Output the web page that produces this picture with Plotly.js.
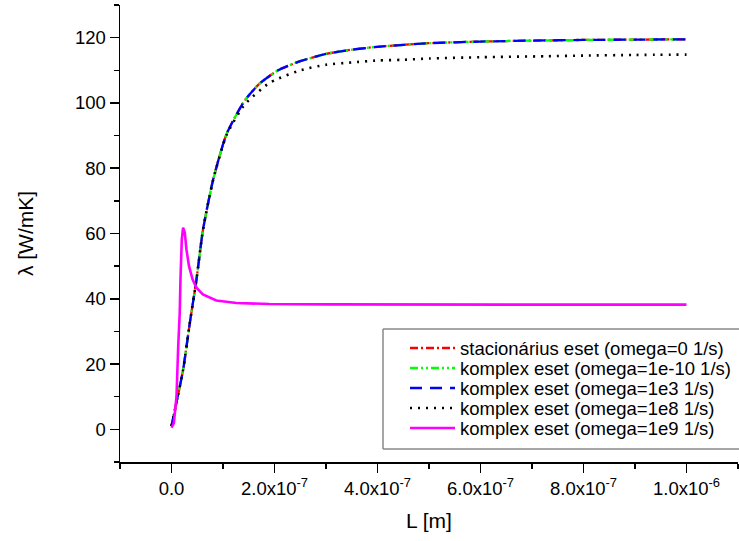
<!DOCTYPE html>
<html>
<head>
<meta charset="utf-8">
<script src="https://cdn.plot.ly/plotly-3.0.1.min.js"></script>
<style>html,body{margin:0;padding:0;background:#fff;}#chart{width:739px;height:541px;}</style>
</head>
<body>
<div id="chart"></div>
<script>
// L values (m) for the main curves
const L_main = [0, 0.1e-7, 0.225e-7, 0.35e-7, 0.485e-7, 0.61e-7, 0.81e-7, 1.07e-7, 1.42e-7, 1.71e-7, 2.07e-7, 2.5e-7, 3e-7, 3.5e-7, 4e-7, 5e-7, 6e-7, 7e-7, 8e-7, 9e-7, 10e-7];
// stacionárius eset (omega=0)
const lam_stat = [1.0, 8.5, 18.2, 32.0, 45.9, 61.0, 76.6, 90.5, 100.7, 105.9, 110.0, 112.8, 115.0, 116.3, 117.2, 118.3, 118.8, 119.1, 119.3, 119.4, 119.5];
// komplex eset (omega=1e-10)
const lam_k1em10 = [1.0, 8.5, 18.2, 32.0, 45.9, 61.0, 76.6, 90.5, 100.7, 105.9, 110.0, 112.8, 115.0, 116.3, 117.2, 118.3, 118.8, 119.1, 119.3, 119.4, 119.5];
// komplex eset (omega=1e3)
const lam_k1e3 = [1.0, 8.5, 18.2, 32.0, 45.9, 61.0, 76.6, 90.5, 100.7, 105.9, 110.0, 112.8, 115.0, 116.3, 117.2, 118.3, 118.8, 119.1, 119.3, 119.4, 119.5];
// komplex eset (omega=1e8)
const L_1e8 = [0, 0.1e-7, 0.225e-7, 0.35e-7, 0.485e-7, 0.61e-7, 0.81e-7, 1.07e-7, 1.42e-7, 1.88e-7, 2.07e-7, 2.5e-7, 3e-7, 3.5e-7, 4e-7, 4.47e-7, 5e-7, 6e-7, 7.28e-7, 8e-7, 9e-7, 10e-7];
const lam_k1e8 = [1.0, 8.5, 18.2, 32.0, 45.9, 61.0, 76.5, 90.2, 99.5, 105.9, 107.4, 110.0, 111.7, 112.4, 113.0, 113.2, 113.6, 114.0, 114.3, 114.5, 114.7, 114.8];
// komplex eset (omega=1e9)
const L_1e9 = [0, 0.045e-7, 0.064e-7, 0.097e-7, 0.13e-7, 0.16e-7, 0.174e-7, 0.2e-7, 0.225e-7, 0.258e-7, 0.29e-7, 0.34e-7, 0.41e-7, 0.485e-7, 0.61e-7, 0.87e-7, 1.26e-7, 1.9e-7, 3e-7, 5e-7, 7e-7, 10e-7];
const lam_k1e9 = [0.5, 1.9, 4.9, 10.0, 25.4, 35.7, 45.9, 58.2, 61.8, 60.3, 55.1, 50.0, 45.9, 43.4, 41.3, 39.5, 38.7, 38.4, 38.3, 38.2, 38.2, 38.2];

const xTickVals = [0, 2e-7, 4e-7, 6e-7, 8e-7, 1e-6];
const xTickText = ["0.0", "2.0x10<sup>-7</sup>", "4.0x10<sup>-7</sup>", "6.0x10<sup>-7</sup>", "8.0x10<sup>-7</sup>", "1.0x10<sup>-6</sup>"];

const names = [
  "stacionárius eset (omega=0 1/s)",
  "komplex eset (omega=1e-10 1/s)",
  "komplex eset (omega=1e3 1/s)",
  "komplex eset (omega=1e8 1/s)",
  "komplex eset (omega=1e9 1/s)"
];

const styles = [
  {color: '#FF0000', width: 2.3, dash: '8px,3px,2px,3px'},
  {color: '#00FF00', width: 2.3, dash: '8px,3px,2px,3px,2px,3px'},
  {color: '#0000FF', width: 2.3, dash: '12px,8px'},
  {color: '#000000', width: 2.6, dash: '2px,6px'},
  {color: '#FF00FF', width: 2.6, dash: 'solid'}
];

const series = [
  {x: L_main, y: lam_stat, shape: 'spline'},
  {x: L_main, y: lam_k1em10, shape: 'spline'},
  {x: L_main, y: lam_k1e3, shape: 'spline'},
  {x: L_1e8, y: lam_k1e8, shape: 'spline'},
  {x: L_1e9, y: lam_k1e9, shape: 'linear'}
];

const traces = series.map((s, i) => ({
  x: s.x, y: s.y, name: names[i], mode: 'lines', showlegend: false,
  line: Object.assign({}, styles[i], {shape: s.shape, smoothing: 0.6})
}));

// legend drawn with shapes and annotations (pixel -> paper helpers)
const M = {l: 120, r: 1, t: 5, b: 79}, W = 739, H = 541;
const PW = W - M.l - M.r, PH = H - M.t - M.b;
const px = v => (v - M.l) / PW;
const py = v => (H - M.b - v) / PH;

const boxLine = {color: '#888', width: 1.5};
const shapes = [
  {type: 'rect', xref: 'paper', yref: 'paper', x0: px(383), x1: px(745), y0: py(449), y1: py(329),
   line: {width: 0}, fillcolor: '#fff', layer: 'above'},
  {type: 'line', xref: 'paper', yref: 'paper', x0: px(383), x1: px(745), y0: py(329), y1: py(329), line: boxLine, layer: 'above'},
  {type: 'line', xref: 'paper', yref: 'paper', x0: px(383), x1: px(745), y0: py(449), y1: py(449), line: boxLine, layer: 'above'},
  {type: 'line', xref: 'paper', yref: 'paper', x0: px(383), x1: px(383), y0: py(449), y1: py(329), line: boxLine, layer: 'above'}
];
const annotations = [];
const rowY = [348, 368, 388, 408, 428];
names.forEach((n, i) => {
  shapes.push({
    type: 'line', xref: 'paper', yref: 'paper',
    x0: px(410), x1: px(455), y0: py(rowY[i]), y1: py(rowY[i]),
    line: {color: styles[i].color, width: styles[i].width, dash: styles[i].dash}, layer: 'above'
  });
  annotations.push({
    xref: 'paper', yref: 'paper', x: px(458), y: py(rowY[i]),
    xanchor: 'left', yanchor: 'middle', showarrow: false, text: n,
    font: {family: 'Liberation Sans, Arial, sans-serif', size: 18.5, color: '#000'}
  });
});

const font = 'Liberation Sans, Arial, sans-serif';
const layout = {
  width: W, height: H,
  margin: M,
  paper_bgcolor: '#fff', plot_bgcolor: '#fff',
  font: {family: font, color: '#000', size: 18.5},
  showlegend: false,
  shapes: shapes,
  annotations: annotations,
  xaxis: {
    range: [-1e-7, 1.1e-6],
    tickmode: 'array', tickvals: xTickVals, ticktext: xTickText,
    ticks: 'outside', ticklen: 9, tickwidth: 1.5, tickcolor: '#000',
    showline: true, linecolor: '#000', linewidth: 1.5, mirror: false,
    showgrid: false, zeroline: false,
    tickfont: {family: font, size: 18.5, color: '#000'},
    minor: {tickmode: 'linear', tick0: 0, dtick: 1e-7, ticks: 'outside', ticklen: 5, tickwidth: 1.5, tickcolor: '#000', showgrid: false},
    title: {text: 'L [m]', font: {family: font, size: 21, color: '#000'}, standoff: 15}
  },
  yaxis: {
    range: [-10, 130],
    tickmode: 'linear', tick0: 0, dtick: 20,
    ticks: 'outside', ticklen: 9, tickwidth: 1.5, tickcolor: '#000',
    showline: true, linecolor: '#000', linewidth: 1.5, mirror: false,
    showgrid: false, zeroline: false,
    tickfont: {family: font, size: 18.5, color: '#000'},
    minor: {tickmode: 'linear', tick0: 0, dtick: 10, ticks: 'outside', ticklen: 5, tickwidth: 1.5, tickcolor: '#000', showgrid: false},
    title: {text: 'λ [W/mK]', font: {family: font, size: 21, color: '#000'}, standoff: 35}
  }
};

Plotly.newPlot('chart', traces, layout, {displayModeBar: false, staticPlot: true});
</script>
</body>
</html>
